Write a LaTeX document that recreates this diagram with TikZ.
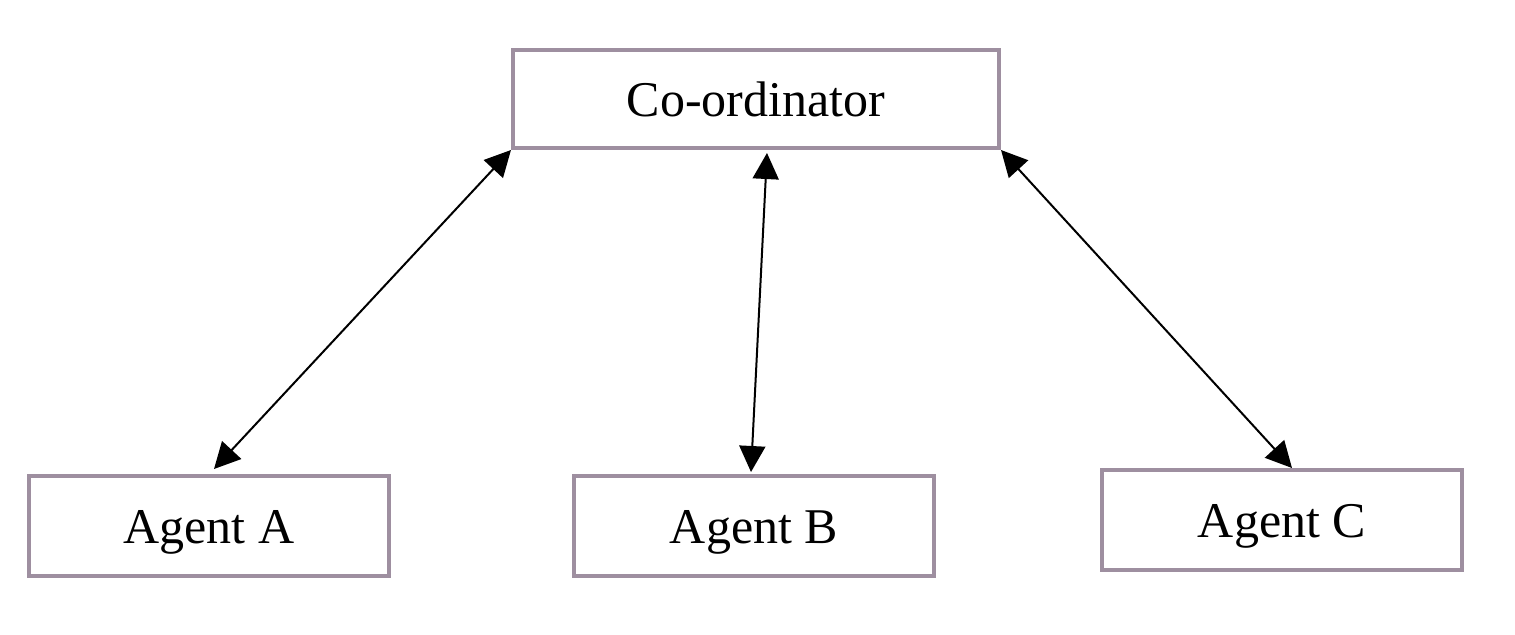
\documentclass[tikz,border=0pt]{standalone}
\usepackage{fontspec}
\setmainfont{Liberation Serif}
\usetikzlibrary{arrows.meta}
\definecolor{boxcol}{RGB}{158,143,160}
\begin{document}
\begin{tikzpicture}[x=0.5pt,y=-0.5pt,
  box/.style={draw=boxcol, line width=2pt, fill=white, inner sep=0pt,
    font=\fontsize{25}{30}\selectfont, text height=17pt, text depth=0pt},
  arr/.style={line width=1pt, {Triangle[length=13pt,width=13pt]}-{Triangle[length=13pt,width=13pt]}}]
\useasboundingbox (0,0) rectangle (1515,634);
\node[box, minimum width=243pt, minimum height=49pt] (co) at (756,99) {Co-ordinator};
\node[box, minimum width=180pt, minimum height=50pt] (a) at (209,526) {Agent A};
\node[box, minimum width=180pt, minimum height=50pt] (b) at (754,526) {Agent B};
\node[box, minimum width=180pt, minimum height=50pt] (c) at (1282,520) {Agent C};
\draw[arr] (co.south west) -- ([xshift=2.5pt,yshift=2.5pt]a.north);
\draw[arr] ([xshift=5.5pt,yshift=-1.5pt]co.south) -- ([xshift=-1.5pt,yshift=1pt]b.north);
\draw[arr] (co.south east) -- ([xshift=5pt]c.north);
\end{tikzpicture}
\end{document}
